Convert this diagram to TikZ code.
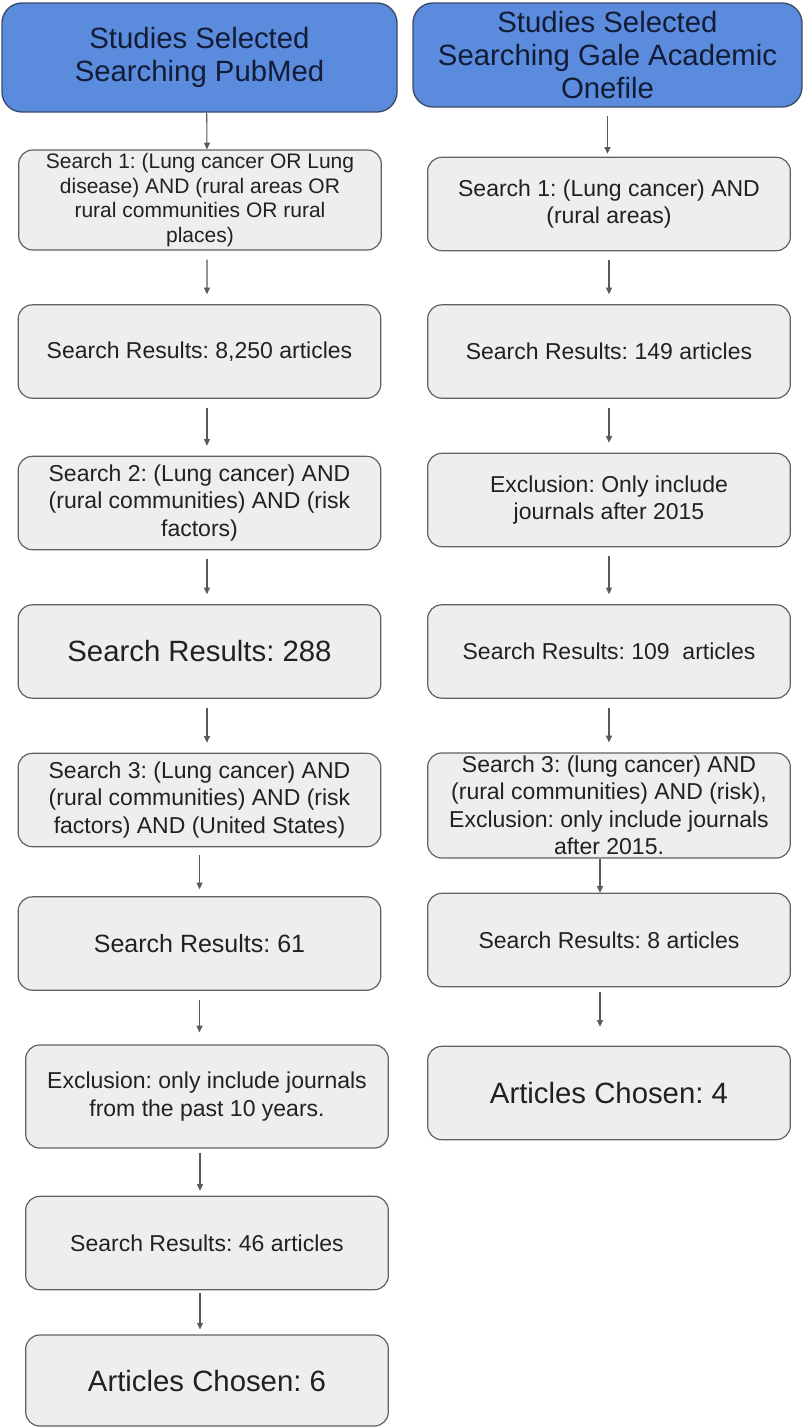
\documentclass[tikz,border=0pt]{standalone}
\usepackage{fontspec}
\setmainfont{Liberation Sans}
\usetikzlibrary{arrows.meta}
\definecolor{headblue}{HTML}{5A8BDC}
\definecolor{headline}{HTML}{3B4A6B}
\definecolor{headtext}{HTML}{121C36}
\definecolor{boxgray}{HTML}{EEEEEE}
\definecolor{boxline}{HTML}{616161}
\definecolor{boxtext}{HTML}{212121}
\definecolor{arrowgray}{HTML}{5A5A5A}
\frenchspacing
\begin{document}
\begin{tikzpicture}[x=0.75pt,y=-0.75pt,
    head/.style={draw=headline,fill=headblue,text=headtext,line width=1pt,rounded corners=15pt,
      align=center,inner sep=0pt,font=\fontsize{22pt}{25pt}\selectfont},
    box/.style={draw=boxline,fill=boxgray,text=boxtext,line width=0.9pt,rounded corners=10.5pt,
      align=center,inner sep=0pt,minimum width=272pt,minimum height=70pt,
      font=\fontsize{17.25pt}{20.6pt}\selectfont},
    big/.style={font=\fontsize{22pt}{25pt}\selectfont},
    link/.style={draw=arrowgray,line width=0.8pt,-{Triangle[length=5pt,width=4.5pt]},
      shorten <=6.75pt,shorten >=7.5pt}]
    \useasboundingbox[fill=white] (0,0) rectangle (803,1428);

    \node[head,minimum width=296.25pt,minimum height=81.75pt] (hpub) at (199.5,57.5) {Studies Selected\\Searching PubMed};
    \node[box,minimum height=75pt,font=\fontsize{15.75pt}{18.3pt}\selectfont] (pub1) at (200,200) {Search 1: (Lung cancer OR Lung\\disease) AND (rural areas OR\\rural communities OR rural\\places)};
    \node[box] (pub2) at (199.5,351.5) {Search Results: 8,250 articles};
    \node[box] (pub3) at (199.5,503) {Search 2: (Lung cancer) AND\\(rural communities) AND (risk\\factors)};
    \node[box,big] (pub4) at (199.5,651.5) {Search Results: 288};
    \node[box] (pub5) at (199.5,800) {Search 3: (Lung cancer) AND\\(rural communities) AND (risk\\factors) AND (United States)};
    \node[box,font=\fontsize{18.75pt}{22pt}\selectfont] (pub6) at (199.5,943.5) {Search Results: 61};
    \node[box,minimum height=77.25pt] (pub7) at (207,1096.5) {Exclusion: only include journals\\from the past 10 years.};
    \node[box] (pub8) at (207,1243) {Search Results: 46 articles};
    \node[box,big,minimum height=68.25pt] (pub9) at (207,1380.5) {Articles Chosen: 6};

    \node[head,minimum width=291.75pt,minimum height=78pt] (hgale) at (607.5,55) {Studies Selected\\Searching Gale Academic\\Onefile};
    \node[box] (gale1) at (609,204) {Search 1: (Lung cancer) AND\\(rural areas)};
    \node[box] (gale2) at (609,351.5) {Search Results: 149 articles};
    \node[box] (gale3) at (609,500) {Exclusion: Only include\\journals after 2015};
    \node[box] (gale4) at (609,651.5) {Search Results: 109\ \ articles};
    \node[box,minimum height=78.75pt] (gale5) at (609,805.5) {Search 3: (lung cancer) AND\\(rural communities) AND (risk),\\Exclusion: only include journals\\after 2015.};
    \node[box] (gale6) at (609,940) {Search Results: 8 articles};
    \node[box,big] (gale7) at (609,1093) {Articles Chosen: 4};

    \draw[link,shorten <=0pt,shorten >=0pt] ([xshift=5.4pt]hpub.south) -- ([xshift=5.25pt]pub1.north);
    \draw[link] ([xshift=5.25pt]pub1.south) -- ([xshift=5.6pt]pub2.north);
    \draw[link] ([xshift=5.6pt]pub2.south) -- ([xshift=5.6pt]pub3.north);
    \draw[link] ([xshift=5.6pt]pub3.south) -- ([xshift=5.6pt]pub4.north);
    \draw[link] ([xshift=5.6pt]pub4.south) -- ([xshift=5.6pt]pub5.north);
    \draw[link,shorten <=6pt,shorten >=5.25pt] (pub5.south) -- (pub6.north);
    \draw[link,shorten >=9pt] (pub6.south) -- (pub6.south |- pub7.north);
    \draw[link,shorten <=3pt,shorten >=3.75pt] ([xshift=-5.25pt]pub7.south) -- ([xshift=-5.25pt]pub8.north);
    \draw[link,shorten <=2.25pt,shorten >=3.75pt] ([xshift=-5.25pt]pub8.south) -- ([xshift=-5.25pt]pub9.north);

    \draw[link,shorten <=6pt,shorten >=2.25pt] (hgale.south) -- (hgale.south |- gale1.north);
    \draw[link] (gale1.south) -- (gale2.north);
    \draw[link] (gale2.south) -- (gale3.north);
    \draw[link] (gale3.south) -- (gale4.north);
    \draw[link] (gale4.south) -- (gale5.north);
    \draw[link,shorten <=0pt,shorten >=0pt] ([xshift=-6.75pt]gale5.south) -- ([xshift=-6.75pt]gale6.north);
    \draw[link,shorten <=3.75pt,shorten >=14.25pt] ([xshift=-6.75pt]gale6.south) -- ([xshift=-6.75pt]gale7.north);
\end{tikzpicture}
\end{document}
